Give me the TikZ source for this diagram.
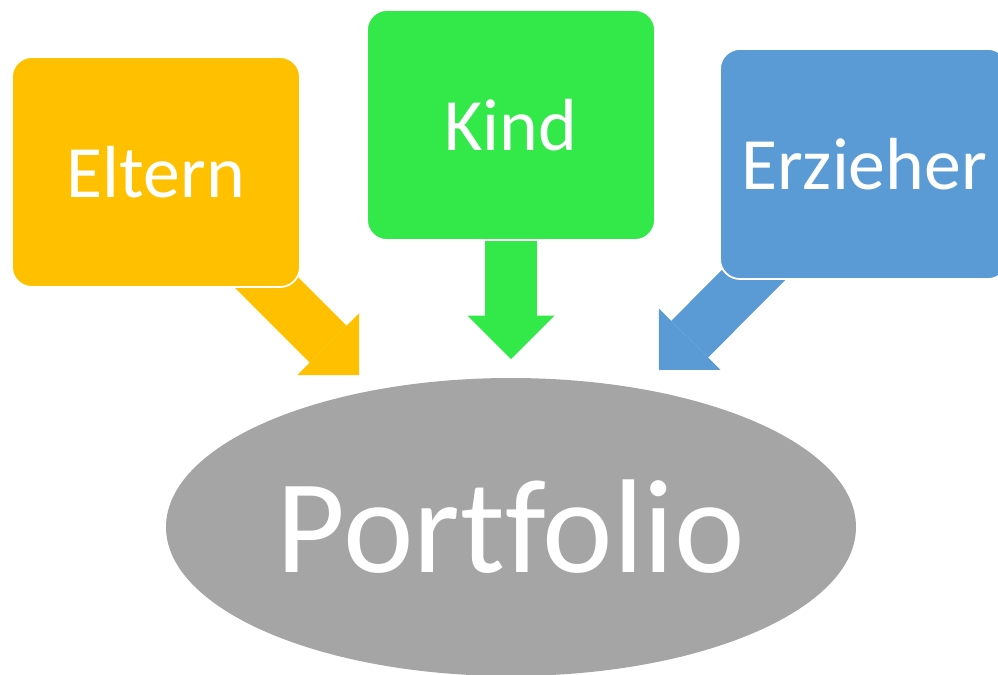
\documentclass[tikz,border=0pt]{standalone}
\usepackage{fontspec}
\setmainfont{Carlito}[Ligatures=NoCommon]
\definecolor{elternorange}{RGB}{255, 192, 0}
\definecolor{kindgreen}{RGB}{51, 233, 74}
\definecolor{erzieherblue}{RGB}{91, 155, 213}
\definecolor{portgray}{RGB}{165, 165, 165}
\usepackage{tikz}
\usetikzlibrary{shapes, arrows.meta, positioning, backgrounds}

\begin{document}
\begin{tikzpicture}[
  sbox/.style={draw=white, line width=1pt, rounded corners=0.4cm, minimum width=5.76cm, minimum height=4.6cm, inner sep=0pt, text=white, font=\fontsize{42}{50}\selectfont},
  flow/.style={line width=1.04cm, -{Triangle[width=1.74cm, length=0.87cm, line width=0pt]}}
]
  \useasboundingbox (0,0) rectangle (19.96,-13.5);
  \node[sbox, fill=elternorange] (eltern) at (3.12, -3.44) {Eltern};
  \node[sbox, fill=kindgreen] (kind) at (10.22, -2.5) {Kind};
  \node[sbox, fill=erzieherblue] (erzieher) at (17.28, -3.28) {Erzieher};
  \node[ellipse, fill=portgray, inner sep=0pt, minimum width=13.8cm, minimum height=5.96cm, text=white, font=\fontsize{76}{90}\selectfont] (portfolio) at (10.22, -10.54) {Portfolio};

  % arrow tips just above the ellipse
  \coordinate (tipE) at (7.18, -7.5);
  \coordinate (tipK) at (10.22, -7.18);
  \coordinate (tipZ) at (13.18, -7.4);

  \begin{scope}[on background layer]
    \draw[flow, elternorange] (eltern.center) -- (tipE);
    \draw[flow, kindgreen] (kind.center) -- (tipK);
    \draw[flow, erzieherblue] (erzieher.center) -- (tipZ);
  \end{scope}
\end{tikzpicture}
\end{document}
